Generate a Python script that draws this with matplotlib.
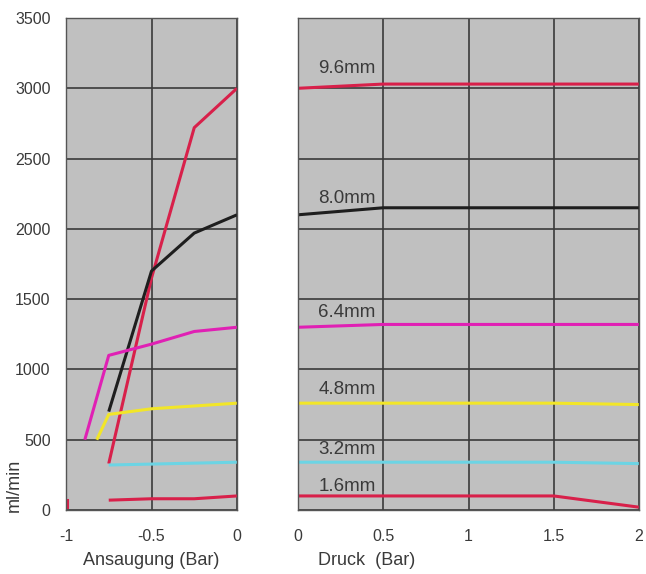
import matplotlib
matplotlib.use("Agg")
import matplotlib.pyplot as plt

plt.rcParams['font.family'] = ['Liberation Sans', 'DejaVu Sans']

# ---- data ----
suction_ticks = [-1, -0.5, 0]
suction_ticklabels = ["-1", "-0.5", "0"]
pressure_ticks = [0, 0.5, 1, 1.5, 2]
pressure_ticklabels = ["0", "0.5", "1", "1.5", "2"]
y_ticks = [0, 500, 1000, 1500, 2000, 2500, 3000, 3500]

sizes = ["9.6mm", "8.0mm", "6.4mm", "4.8mm", "3.2mm", "1.6mm"]

suct_x_96 = [-0.75, -0.5, -0.25, 0]
suct_y_96 = [330, 1650, 2720, 3000]
suct_x_80 = [-0.75, -0.5, -0.25, 0]
suct_y_80 = [700, 1700, 1970, 2100]
suct_x_64 = [-0.89, -0.75, -0.5, -0.25, 0]
suct_y_64 = [500, 1100, 1180, 1270, 1300]
suct_x_48 = [-0.82, -0.75, -0.5, -0.25, 0]
suct_y_48 = [500, 680, 720, 740, 760]
suct_x_32 = [-0.75, 0]
suct_y_32 = [320, 340]
suct_x_16 = [-0.75, -0.5, -0.25, 0]
suct_y_16 = [70, 80, 80, 100]
stub_x_16 = [-0.995, -0.995]
stub_y_16 = [20, 70]

press_x = [0, 0.5, 1, 1.5, 2]
press_y_96 = [3000, 3030, 3030, 3030, 3030]
press_y_80 = [2100, 2150, 2150, 2150, 2150]
press_y_64 = [1300, 1320, 1320, 1320, 1320]
press_y_48 = [760, 760, 760, 760, 750]
press_y_32 = [340, 340, 340, 340, 330]
press_y_16 = [100, 100, 100, 100, 20]

label_y = [3140, 2215, 1405, 860, 430, 165]

colors = ["#d8204a", "#1e1e1e", "#e020b4", "#f2e628", "#6cd4e4", "#d8204a"]

# ---- figure ----
W, H = 646, 574
fig = plt.figure(figsize=(W / 100, H / 100), dpi=100)
bot = (H - 510) / H
ht = (510 - 18) / H
axL = fig.add_axes([66 / W, bot, (237 - 66) / W, ht])
axR = fig.add_axes([298 / W, bot, (639 - 298) / W, ht])

face = "#c0c0c0"
gridc = "#3a3a3a"
txtc = "#3a3a3a"
for ax in (axL, axR):
    ax.set_facecolor(face)
    ax.set_ylim(0, 3500)
    ax.set_yticks(y_ticks)
    ax.grid(True, color=gridc, linewidth=1.2)
    ax.set_axisbelow(True)
    for s in ax.spines.values():
        s.set_color("#555555")
        s.set_linewidth(1.0)
    ax.tick_params(length=0, labelsize=11.5, labelcolor=txtc, pad=14)

axL.set_xlim(-1, 0)
axL.set_xticks(suction_ticks)
axL.set_xticklabels(suction_ticklabels)
axL.tick_params(axis='y', pad=11)
axR.set_xlim(0, 2)
axR.set_xticks(pressure_ticks)
axR.set_xticklabels(pressure_ticklabels)
axR.set_yticklabels([])

lw = 2.2
suct = [(suct_x_96, suct_y_96), (suct_x_80, suct_y_80), (suct_x_64, suct_y_64),
        (suct_x_48, suct_y_48), (suct_x_32, suct_y_32), (suct_x_16, suct_y_16)]
press = [press_y_96, press_y_80, press_y_64, press_y_48, press_y_32, press_y_16]
for (sx, sy), c in zip(suct, colors):
    axL.plot(sx, sy, color=c, linewidth=lw, solid_capstyle='butt')
axL.plot(stub_x_16, stub_y_16, color=colors[5], linewidth=lw)
for py, c in zip(press, colors):
    axR.plot(press_x, py, color=c, linewidth=lw, solid_capstyle='butt')
for name, ly in zip(sizes, label_y):
    axR.text(0.12, ly, name, fontsize=13.5, color=txtc, ha='left', va='center')

axL.set_xlabel("Ansaugung (Bar)", fontsize=13, color=txtc)
axL.xaxis.set_label_coords(0.5, -0.085)
axR.set_xlabel("Druck  (Bar)", fontsize=13, color=txtc)
axR.xaxis.set_label_coords(0.2, -0.085)
axL.set_ylabel("ml/min", fontsize=13, color=txtc)
axL.yaxis.set_label_coords(-0.25, 0.05)

fig.savefig("out.png", dpi=100, facecolor="white")
